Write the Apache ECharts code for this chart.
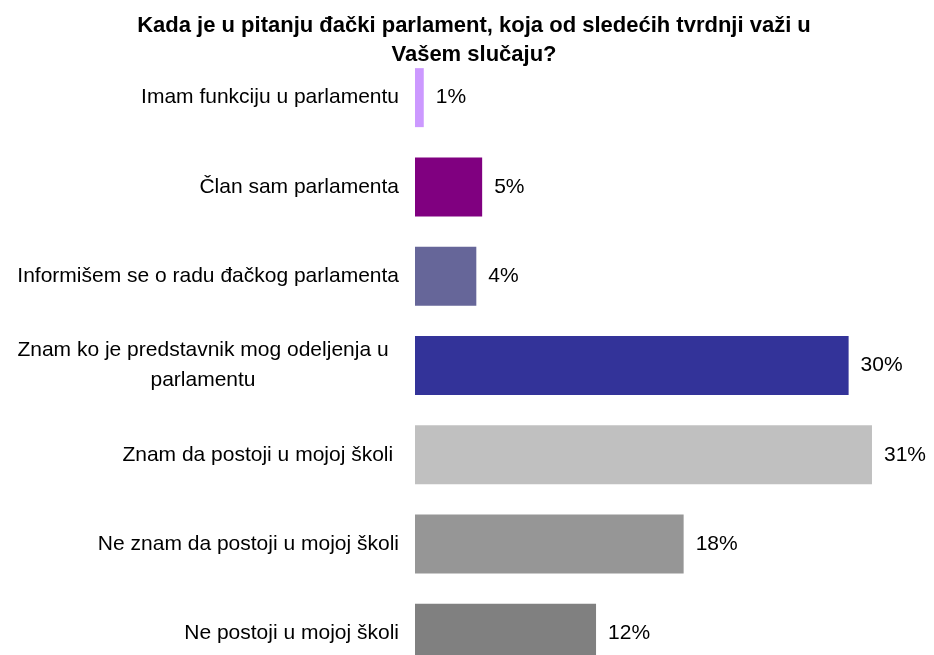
<!DOCTYPE html>
<html>
<head>
<meta charset="utf-8">
<script src="https://cdn.jsdelivr.net/npm/echarts@6/dist/echarts.min.js"></script>
<style>
  html, body { margin: 0; padding: 0; background: #fff; overflow: hidden; }
  #chart { width: 934px; height: 680px; }
</style>
</head>
<body>
<div id="chart"></div>
<script>
var titleText = 'Kada je u pitanju đački parlament, koja od sledećih tvrdnji važi u\nVašem slučaju?';

var categories = [
  'Imam funkciju u parlamentu',
  'Član sam parlamenta',
  'Informišem se o radu đačkog parlamenta',
  'Znam ko je predstavnik mog odeljenja u\nparlamentu',
  'Znam da postoji u mojoj školi ',
  'Ne znam da postoji u mojoj školi',
  'Ne postoji u mojoj školi'
];
var values = [0.6, 4.6, 4.2, 29.7, 31.3, 18.4, 12.4];
var colors = ['#CC99FF', '#800080', '#666699', '#333399', '#C0C0C0', '#969696', '#808080'];

// the last bar runs past the bottom of the window, so the chart div is taller
var chart = echarts.init(document.getElementById('chart'));

var font = '"Liberation Sans", Arial, sans-serif';

var option = {
  backgroundColor: '#fff',
  animation: false,
  title: {
    text: titleText,
    left: 469,
    top: 6,
    textAlign: 'center',
    textStyle: {
      fontFamily: font,
      fontSize: 22,
      fontWeight: 'bold',
      color: '#000',
      lineHeight: 29
    }
  },
  grid: {
    left: 415,
    right: 8,
    top: 53,
    bottom: 2
  },
  xAxis: {
    type: 'value',
    min: 0,
    max: 35,
    show: false
  },
  yAxis: {
    type: 'category',
    inverse: true,
    data: categories,
    axisLine: { show: false },
    axisTick: { show: false },
    splitLine: { show: false },
    axisLabel: {
      margin: 16,
      fontFamily: font,
      fontSize: 21,
      color: '#000',
      formatter: function (v) {
        if (v.indexOf('\n') >= 0) return '{w|' + v + '}';
        return v;
      },
      rich: {
        w: {
          width: 392,
          align: 'center',
          fontFamily: font,
          fontSize: 21,
          lineHeight: 30,
          color: '#000'
        }
      }
    }
  },
  series: [{
    type: 'bar',
    barWidth: 59,
    data: values.map(function (v, i) {
      return { value: v, itemStyle: { color: colors[i] } };
    }),
    label: {
      show: true,
      position: 'right',
      distance: 12,
      fontFamily: font,
      fontSize: 21,
      color: '#000',
      formatter: function (p) { return Math.round(p.value) + '%'; }
    }
  }]
};

chart.setOption(option);
</script>
</body>
</html>
